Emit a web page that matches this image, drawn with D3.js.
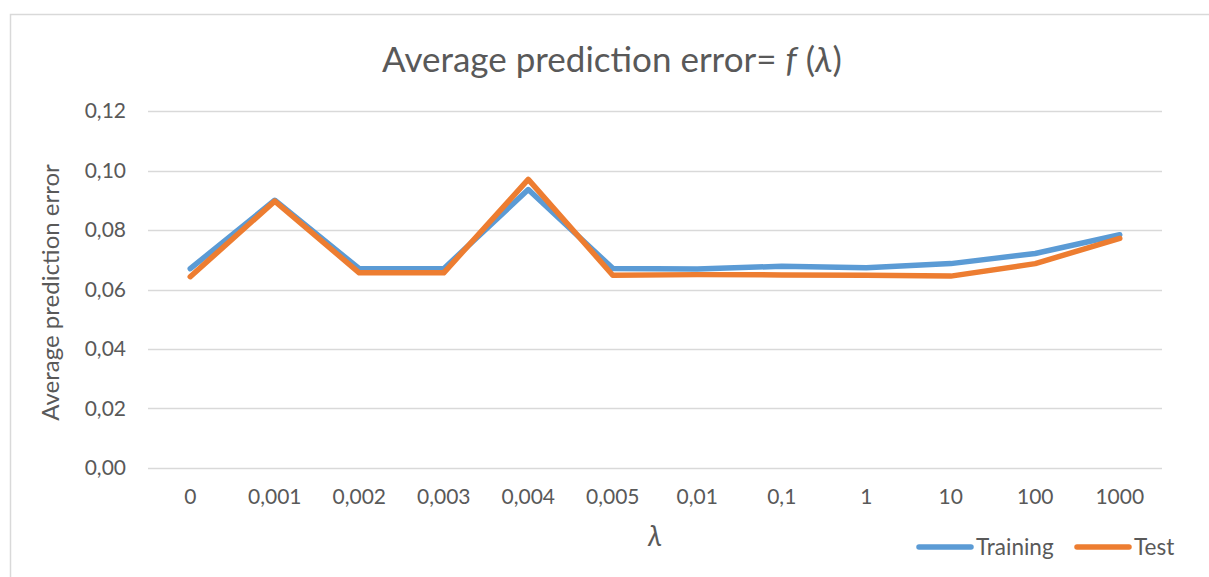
<!DOCTYPE html>
<html>
<head>
<meta charset="utf-8">
<script src="https://cdn.jsdelivr.net/npm/d3@7"></script>
<style>
  html, body { margin: 0; padding: 0; background: #fff; }
  svg { display: block; font-family: Lato, "Open Sans", sans-serif; }
</style>
</head>
<body>
<svg id="chart" width="1209" height="577"></svg>
<script>
// Regularisation values on the x axis
const lambdas = ["0", "0,001", "0,002", "0,003", "0,004", "0,005", "0,01", "0,1", "1", "10", "100", "1000"];
// Average prediction error per lambda
const training = [0.0670, 0.0900, 0.0670, 0.0670, 0.0936, 0.0671, 0.0669, 0.0678, 0.0673, 0.0687, 0.0721, 0.0784];
const test     = [0.0643, 0.0897, 0.0656, 0.0656, 0.0970, 0.0648, 0.0650, 0.0649, 0.0648, 0.0645, 0.0687, 0.0772];
const yTicks   = [0, 0.02, 0.04, 0.06, 0.08, 0.10, 0.12];

const series = [
  { name: "Training", values: training, color: "#5b9bd5" },
  { name: "Test",     values: test,     color: "#ed7d31" }
];

const svg = d3.select("#chart");
const textColor = "#595959";
const fmt = v => d3.format(".2f")(v).replace(".", ",");

// Outer chart frame
svg.append("rect")
  .attr("x", 10.5).attr("y", 14.5)
  .attr("width", 1240).attr("height", 620)
  .attr("fill", "none").attr("stroke", "#d9d9d9").attr("stroke-width", 1.5);

const plot = { left: 148, right: 1162, top: 111, bottom: 468 };

const x = d3.scaleBand().domain(lambdas).range([plot.left, plot.right]);
const y = d3.scaleLinear().domain([0, 0.12]).range([plot.bottom, plot.top]);

// Horizontal gridlines
svg.append("g")
  .selectAll("line")
  .data(yTicks)
  .join("line")
  .attr("x1", plot.left).attr("x2", plot.right)
  .attr("y1", d => Math.round(y(d)) + 0.5).attr("y2", d => Math.round(y(d)) + 0.5)
  .attr("stroke", "#d9d9d9").attr("stroke-width", 1.3);

// Y axis labels
const yAxis = d3.axisLeft(y).tickValues(yTicks).tickFormat(fmt).tickSize(0).tickPadding(22);
const gy = svg.append("g").attr("transform", `translate(${plot.left},0)`).call(yAxis);
gy.select(".domain").remove();
gy.selectAll("text").attr("fill", textColor).style("font-size", "21px").style("font-family", "Lato, sans-serif");

// X axis labels
const xAxis = d3.axisBottom(x).tickSize(0).tickPadding(21);
const gx = svg.append("g").attr("transform", `translate(0,${plot.bottom})`).call(xAxis);
gx.select(".domain").remove();
gx.selectAll("text").attr("fill", textColor).style("font-size", "21px").style("font-family", "Lato, sans-serif");

// Series lines
const line = d3.line()
  .x((d, i) => x(lambdas[i]) + x.bandwidth() / 2)
  .y(d => y(d));

svg.append("g")
  .selectAll("path")
  .data(series)
  .join("path")
  .attr("d", d => line(d.values))
  .attr("fill", "none")
  .attr("stroke", d => d.color)
  .attr("stroke-width", 5.5)
  .attr("stroke-linejoin", "round")
  .attr("stroke-linecap", "round");

// Title
const title = svg.append("text")
  .attr("x", 612).attr("y", 72)
  .attr("text-anchor", "middle")
  .attr("fill", textColor)
  .style("font-size", "35px");
title.append("tspan").text("Average prediction error= ");
title.append("tspan").style("font-style", "italic").text("f");
title.append("tspan").text(" (");
title.append("tspan").style("font-style", "italic").text("λ");
title.append("tspan").text(")");

// Axis titles
svg.append("text")
  .attr("transform", `translate(59,${(plot.top + plot.bottom) / 2 + 3}) rotate(-90)`)
  .attr("text-anchor", "middle")
  .attr("fill", textColor)
  .style("font-size", "24px")
  .text("Average prediction error");

svg.append("text")
  .attr("x", 655).attr("y", 546)
  .attr("text-anchor", "middle")
  .attr("fill", textColor)
  .style("font-size", "28px")
  .style("font-style", "italic")
  .text("λ");

// Legend
const legendPos = [{ x: 917 }, { x: 1075 }];
const lg = svg.append("g")
  .selectAll("g")
  .data(series)
  .join("g")
  .attr("transform", (d, i) => `translate(${legendPos[i].x},547)`);
lg.append("line")
  .attr("x1", 2).attr("x2", 54)
  .attr("stroke", d => d.color).attr("stroke-width", 5.5).attr("stroke-linecap", "round");
lg.append("text")
  .attr("x", 59).attr("y", 8)
  .attr("fill", textColor)
  .style("font-size", "22.5px")
  .text(d => d.name);
</script>
</body>
</html>
